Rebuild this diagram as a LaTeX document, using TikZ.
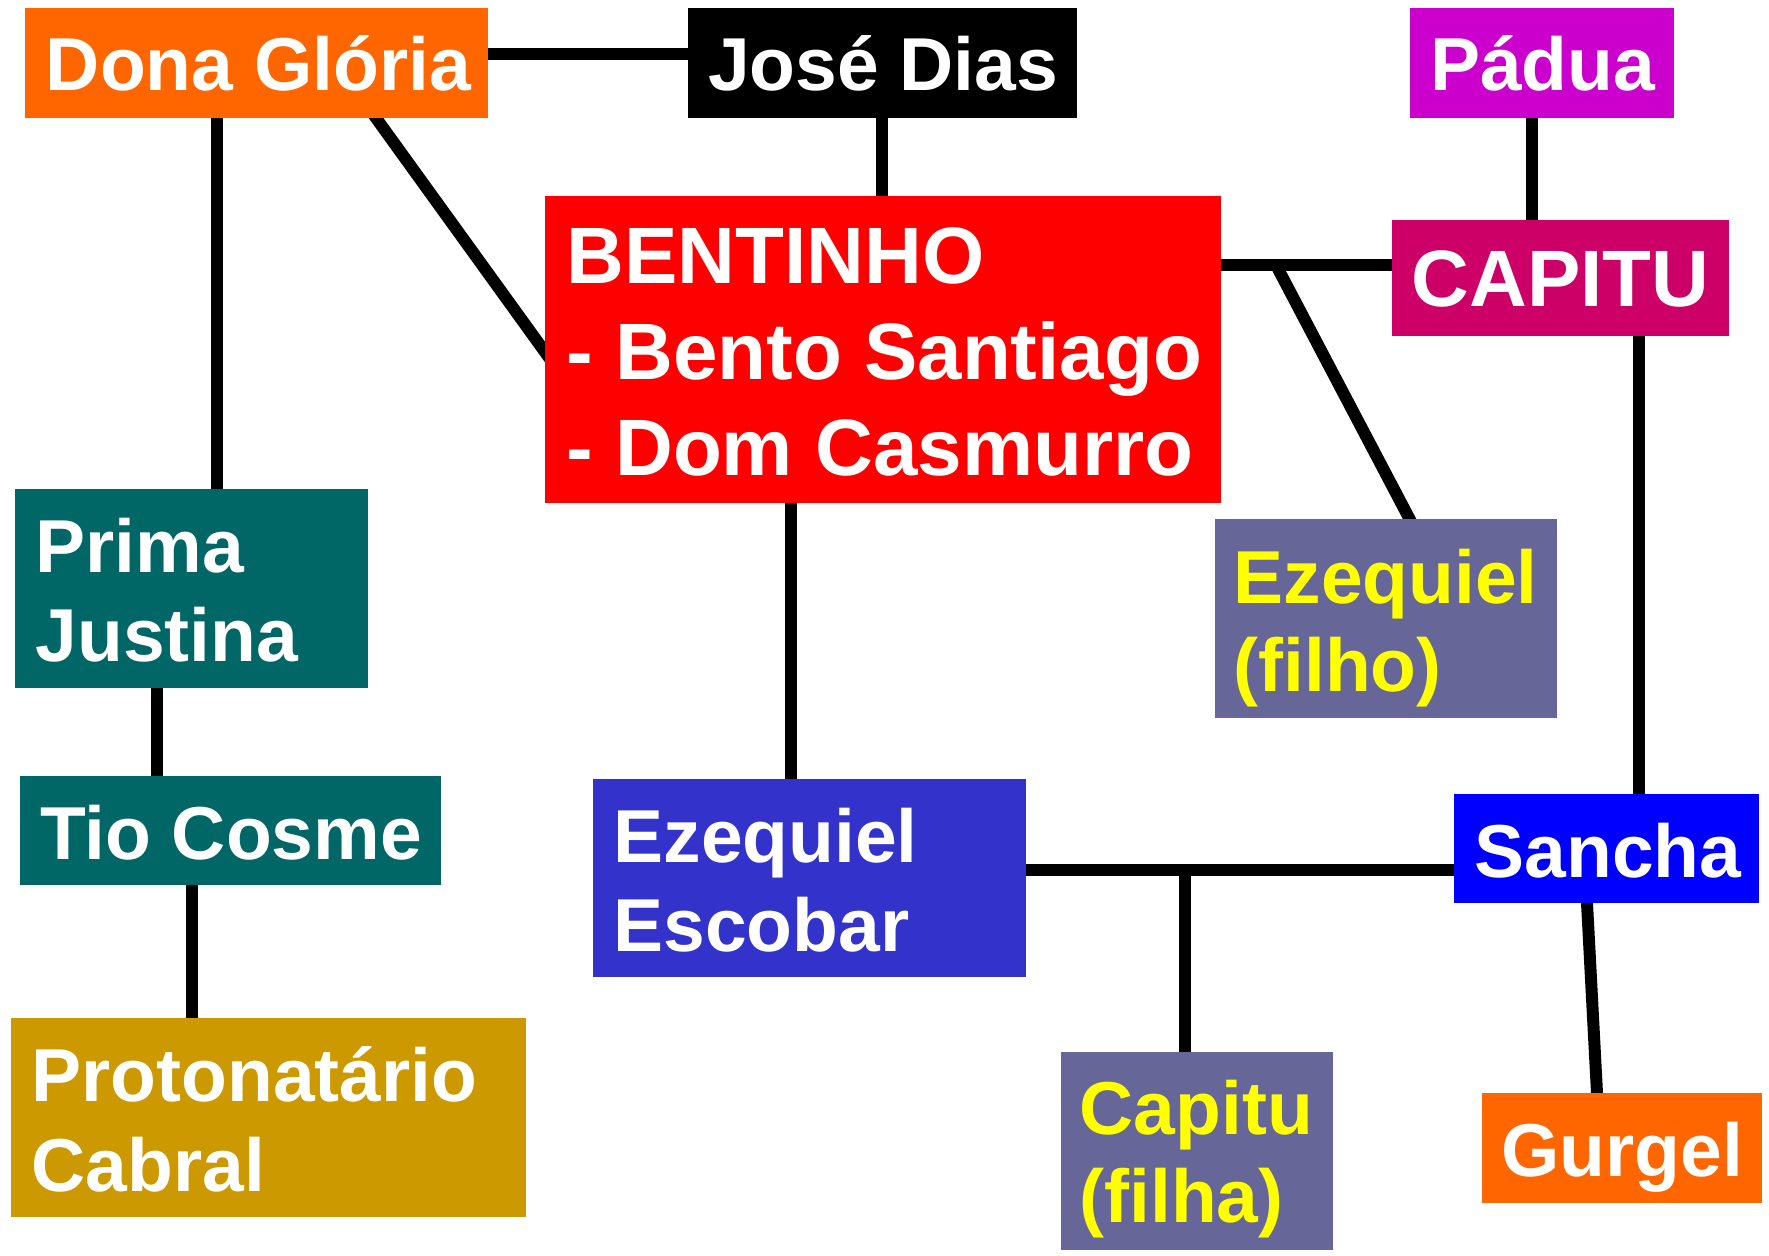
\documentclass[tikz,border=0pt]{standalone}
\usepackage{fontspec}
\usetikzlibrary{calc}
\setmainfont{Liberation Sans}
\definecolor{cdona}{HTML}{FF6600}
\definecolor{cpadua}{HTML}{CC00CC}
\definecolor{cbent}{HTML}{FF0000}
\definecolor{ccapitu}{HTML}{CC0066}
\definecolor{cteal}{HTML}{006666}
\definecolor{cproto}{HTML}{CC9900}
\definecolor{cesc}{HTML}{3333CC}
\definecolor{cchild}{HTML}{666699}
\definecolor{csancha}{HTML}{0000FF}
\definecolor{cyel}{HTML}{FFFF00}
\pgfdeclarelayer{bglayer}
\pgfdeclarelayer{linelayer}
\pgfsetlayers{bglayer,linelayer,main}
\begin{document}
\begin{tikzpicture}[x=0.5pt,y=-0.5pt,
  box/.style={inner sep=0pt, outer sep=0pt, anchor=north west, draw=none},
  txt/.style={inner sep=0pt, outer sep=0pt, anchor=base west, text=white, font=\bfseries\fontsize{37.5pt}{45pt}\selectfont},
  bigtxt/.style={txt, font=\bfseries\fontsize{40pt}{48pt}\selectfont},
  ytxt/.style={txt, text=cyel},
  link/.style={line width=6pt, draw=black}]
\begin{pgfonlayer}{bglayer}
\useasboundingbox[fill=white] (0,0) rectangle (1769,1255);
\end{pgfonlayer}
% boxes
\node[box, fill=cdona, minimum width=231.5pt, minimum height=55pt] (dona) at (25,8) {};
\node[box, fill=black, minimum width=194.5pt, minimum height=55pt] (jose) at (688,8) {};
\node[box, fill=cpadua, minimum width=132pt, minimum height=55pt] (padua) at (1410,8) {};
\node[box, fill=cbent, minimum width=338pt, minimum height=153.5pt] (bent) at (545,196) {};
\node[box, fill=ccapitu, minimum width=168.5pt, minimum height=58pt] (capitu) at (1392,220) {};
\node[box, fill=cchild, minimum width=171pt, minimum height=99.5pt] (ezf) at (1215,519) {};
\node[box, fill=csancha, minimum width=152.5pt, minimum height=54.5pt] (sancha) at (1454,794) {};
\node[box, fill=cdona, minimum width=140pt, minimum height=55pt] (gurgel) at (1482,1093) {};
\node[box, fill=cchild, minimum width=136pt, minimum height=99pt] (capf) at (1061,1052) {};
\node[box, fill=cesc, minimum width=216.5pt, minimum height=99pt] (esc) at (593,779) {};
\node[box, fill=cteal, minimum width=176.5pt, minimum height=99.5pt] (prima) at (15,489) {};
\node[box, fill=cteal, minimum width=210.5pt, minimum height=54.5pt] (tio) at (20,776) {};
\node[box, fill=cproto, minimum width=257.5pt, minimum height=99.5pt] (proto) at (11,1018) {};
% texts
\node[txt] (donaT) at (46,90.7) {Dona Glória};
\node[txt] (joseT) at (708,90.7) {José Dias};
\node[txt] (paduaT) at (1430,90.7) {Pádua};
\node[bigtxt] (bentA) at (566.5,283.3) {BENTINHO};
\node[bigtxt] (bentB) at (566.5,379) {- Bento Santiago};
\node[bigtxt] (bentC) at (566.5,475) {- Dom Casmurro};
\node[bigtxt] (capituT) at (1411.5,306.7) {CAPITU};
\node[ytxt] (ezfA) at (1233.5,603) {Ezequiel};
\node[ytxt] (ezfB) at (1233.5,691) {(filho)};
\node[txt] (sanchaT) at (1474.5,877.6) {Sancha};
\node[txt] (gurgelT) at (1501.5,1176) {Gurgel};
\node[ytxt] (capfA) at (1079.5,1134) {Capitu};
\node[ytxt] (capfB) at (1079.5,1222.6) {(filha)};
\node[txt] (escA) at (613.5,862) {Ezequiel};
\node[txt] (escB) at (613.5,951.5) {Escobar};
\node[txt] (primaA) at (35.5,572) {Prima};
\node[txt] (primaB) at (35.5,661) {Justina};
\node[txt] (tioT) at (40,859) {Tio Cosme};
\node[txt] (protoA) at (31.5,1101) {Protonatário};
\node[txt] (protoB) at (31.5,1191) {Cabral};
% junction points
\coordinate (jBC) at (1276,265);
\coordinate (jES) at (1185,870);
% connectors (behind the boxes)
\begin{pgfonlayer}{linelayer}
\draw[link] ([xshift=-2pt]dona.east |- 0,53.5) -- ([xshift=2pt]jose.west |- 0,53.5);
\draw[link] ([yshift=2pt]dona.south -| 217,0) -- ([yshift=-2pt]prima.north -| 217,0);
\draw[link] ($(dona.south -| 376,0)!-0.03!(bent.west |- 0,352)$) -- ($(bent.west |- 0,352)!-0.03!(dona.south -| 376,0)$);
\draw[link] ([yshift=2pt]jose.south -| 882,0) -- ([yshift=-2pt]bent.north -| 882,0);
\draw[link] ([yshift=2pt]padua.south -| 1532,0) -- ([yshift=-2pt]capitu.north -| 1532,0);
\draw[link] ([xshift=-2pt]bent.east |- 0,265) -- ([xshift=2pt]capitu.west |- 0,265);
\draw[link] (jBC) -- ($(ezf.north -| 1409.6,0)!-0.03!(jBC)$);
\draw[link] ([yshift=2pt]capitu.south -| 1638.6,0) -- ([yshift=-2pt]sancha.north -| 1638.6,0);
\draw[link] ([yshift=2pt]bent.south -| 791,0) -- ([yshift=-2pt]esc.north -| 791,0);
\draw[link] ([xshift=-2pt]esc.east |- 0,870) -- ([xshift=2pt]sancha.west |- 0,870);
\draw[link] (jES) -- ([yshift=-2pt]capf.north -| 1185,0);
\draw[link] ($(sancha.south -| 1587,0)!-0.03!(gurgel.north -| 1597,0)$) -- ($(gurgel.north -| 1597,0)!-0.03!(sancha.south -| 1587,0)$);
\draw[link] ([yshift=2pt]prima.south -| 156.5,0) -- ([yshift=-2pt]tio.north -| 156.5,0);
\draw[link] ([yshift=2pt]tio.south -| 191.5,0) -- ([yshift=-2pt]proto.north -| 191.5,0);
\end{pgfonlayer}
\end{tikzpicture}
\end{document}
